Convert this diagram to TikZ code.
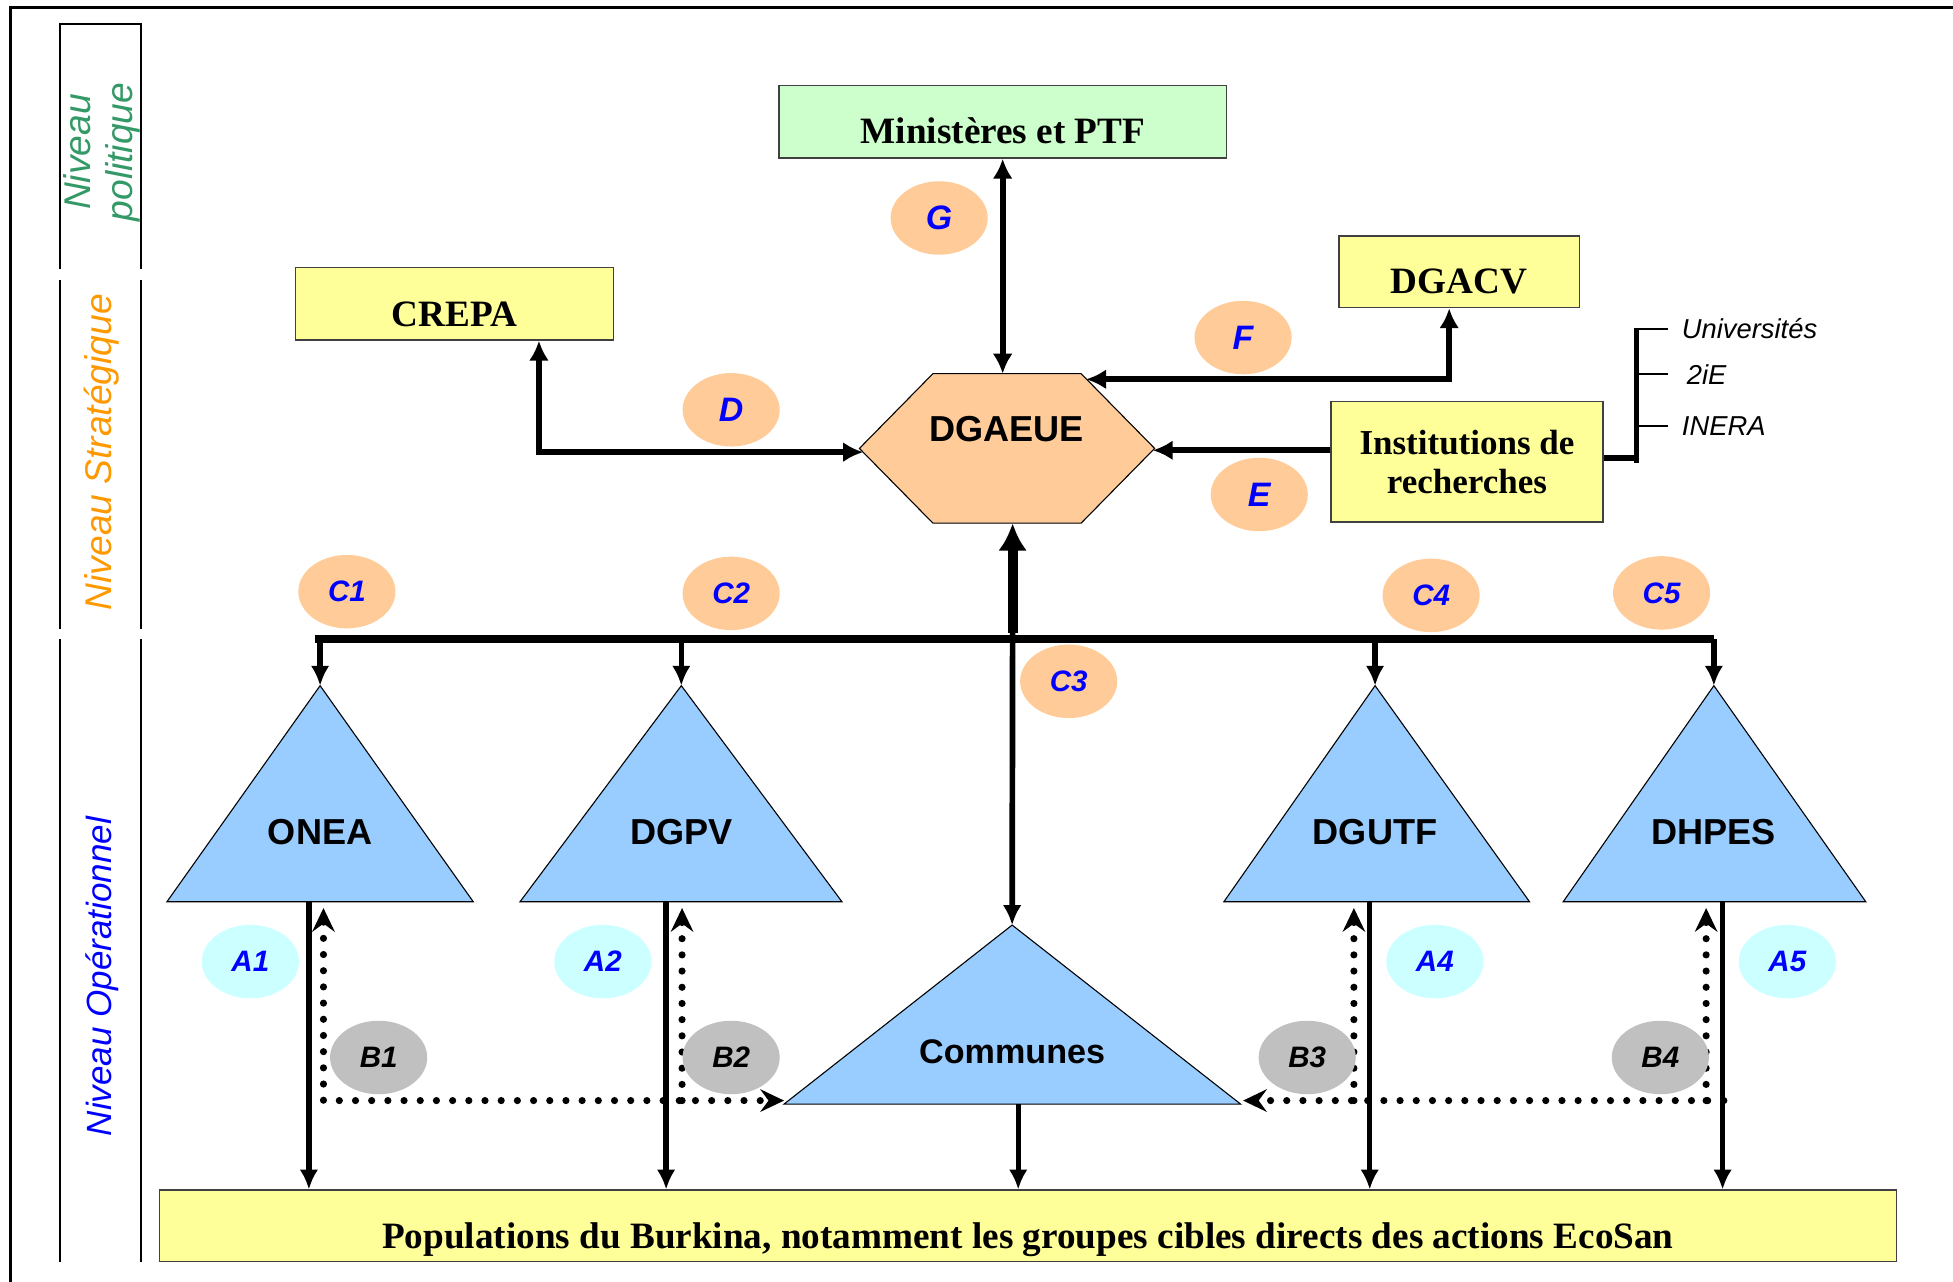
\documentclass[tikz,border=0pt]{standalone}
\usepackage{fontspec}
\setmainfont{Liberation Serif}
\setsansfont{Liberation Sans}
\usetikzlibrary{arrows.meta,shapes.geometric}

\definecolor{peach}{RGB}{255,204,153}
\definecolor{paleyellow}{RGB}{255,255,153}
\definecolor{palegreen}{RGB}{204,255,204}
\definecolor{skyblue}{RGB}{153,204,255}
\definecolor{palecyan}{RGB}{204,255,255}
\definecolor{midgrey}{RGB}{192,192,192}
\definecolor{levelgreen}{RGB}{51,153,102}
\definecolor{levelorange}{RGB}{255,153,0}

\begin{document}
\begin{tikzpicture}[x=0.02cm,y=-0.02cm,
  box/.style={draw=black!75,line width=0.6pt,inner sep=0pt,font=\bfseries\fontsize{17}{19}\selectfont},
  tri/.style={draw=black,line width=0.5pt,fill=skyblue},
  trilabel/.style={font=\sffamily\bfseries\fontsize{16.5}{18}\selectfont},
  tag/.style={ellipse,minimum width=1.56cm,minimum height=1.18cm,inner sep=0pt,text=blue,font=\sffamily\bfseries\itshape\fontsize{13.5}{15}\selectfont},
  bigtag/.style={tag,fill=peach,font=\sffamily\bfseries\itshape\fontsize{15.5}{17}\selectfont},
  level/.style={rotate=90,align=center,font=\sffamily\itshape\fontsize{17}{19}\selectfont},
  member/.style={anchor=west,inner xsep=0.22cm,inner ysep=0pt,font=\sffamily\itshape\fontsize{12.5}{14}\selectfont},
  link/.style={line width=2.7pt,-{Latex[length=0.32cm,width=0.32cm]}},
  twoway/.style={line width=2.7pt,{Latex[length=0.32cm,width=0.32cm]}-{Latex[length=0.32cm,width=0.32cm]}},
  drop/.style={line width=2.4pt,-{Latex[length=0.32cm,width=0.3cm]}},
  dotlink/.style={line width=0.115cm,line cap=round,dash pattern=on 0pt off 0.26cm,-{Stealth[length=0.38cm,width=0.36cm,inset=0.13cm]}}]
  \useasboundingbox (0,0) rectangle (1568,1029);

  %frame and level column
  \draw[line width=1.4pt] (1568,6) -- (8.8,6) -- (8.8,1029);
  \draw[line width=0.9pt] (48,216) -- (48,19) -- (113.2,19) -- (113.2,216);
  \draw[line width=0.9pt] (48,225) -- (48,505) (113.2,225) -- (113.2,505);
  \draw[line width=0.9pt] (48,513) -- (48,1013) (113.2,513) -- (113.2,1013);
  \node[level,text=levelgreen] (politique) at (82,122) {Niveau\\politique};
  \node[level,text=levelorange] (strategique) at (82,363) {Niveau Stratégique};
  \node[level,text=blue,font=\sffamily\itshape\fontsize{16}{18}\selectfont] (operationnel) at (82,784) {Niveau Opérationnel};

  %boxes
  \node[box,fill=palegreen,minimum width=7.19cm,minimum height=1.16cm,text height=0.684cm,text depth=0pt] (min) at (805.25,97.9) {Ministères et PTF};
  \node[box,fill=paleyellow,minimum width=5.11cm,minimum height=1.16cm,text height=0.732cm,text depth=0pt] (crepa) at (364.85,244) {CREPA};
  \node[box,fill=paleyellow,minimum width=3.86cm,minimum height=1.15cm,text height=0.71cm,text depth=0pt] (dgacv) at (1171.5,218.25) {DGACV};
  \node[box,fill=paleyellow,minimum width=4.37cm,minimum height=1.93cm,align=center,font=\bfseries\fontsize{16}{17.5}\selectfont] (inst) at (1177.8,370.85) {Institutions de\\recherches};
  \node[box,fill=paleyellow,minimum width=27.89cm,minimum height=1.15cm,text height=0.74cm,text depth=0pt] (pop) at (825.25,984.25) {Populations du Burkina, notamment les groupes cibles directs des actions EcoSan};

  %DGAEUE hexagon
  \filldraw[fill=peach,draw=black,line width=0.5pt] (690,360) -- (749,300) -- (868,300) -- (927,360) -- (868,420) -- (749,420) -- cycle;
  \node[trilabel] (dgaeue) at (808.2,344.3) {DGAEUE};
  \coordinate (hexTop) at (805,300);
  \coordinate (hexF) at (872,304.5);
  \coordinate (hexW) at (693,363);
  \coordinate (hexE) at (925.5,361.5);
  \coordinate (hexBot) at (813,420);

  %operational triangles
  \filldraw[tri] (257,550.5) coordinate (oneaTop) -- (380,724) -- (134,724) -- cycle;
  \filldraw[tri] (547,550.5) coordinate (dgpvTop) -- (676,724) -- (417.5,724) -- cycle;
  \filldraw[tri] (1104,550.5) coordinate (dgutfTop) -- (1228,724) -- (982.6,724) -- cycle;
  \filldraw[tri] (1376,550.5) coordinate (dhpesTop) -- (1498,724) -- (1255,724) -- cycle;
  \filldraw[tri] (812.6,742.7) coordinate (comTop) -- (996,886.4) coordinate (comR) -- (629.5,886.4) coordinate (comL) -- cycle;
  \node[trilabel] (onea) at (257,667.7) {ONEA};
  \node[trilabel] (dgpv) at (547,667.7) {DGPV};
  \node[trilabel] (dgutf) at (1104,667.7) {DGUTF};
  \node[trilabel] (dhpes) at (1376,667.7) {DHPES};
  \node[trilabel,font=\sffamily\bfseries\fontsize{15.6}{17}\selectfont] (communes) at (812.6,844.4) {Communes};

  %upper links
  \draw[twoway] (min.south -| hexTop) -- (hexTop);
  \coordinate (fBend) at (1163.5,304.5);
  \draw[twoway] (dgacv.south -| fBend) -- (fBend) -- (hexF);
  \coordinate (dBend) at (432.7,363);
  \draw[twoway] (crepa.south -| dBend) -- (dBend) -- (hexW);
  \draw[link] (inst.west |- hexE) -- (hexE);

  %research institutions
  \coordinate (bkMid) at (1314,367.5);
  \coordinate (bkTop) at (1314,263.5);
  \coordinate (bkBot) at (1314,372);
  \node[member] (univ) at (1339,264) {Universités};
  \node[member,inner xsep=0.3cm] (iie) at (1339,300.4) {2iE};
  \node[member] (inera) at (1339,342) {INERA};
  \draw[line width=2.7pt] (inst.east |- bkMid) -- (bkMid);
  \draw[line width=2.5pt] (bkTop) -- (bkBot);
  \foreach \m in {univ,iie,inera}
    \draw[line width=0.8pt] (bkTop |- \m.west) -- (\m.west);

  %coordination bus
  \coordinate (busL) at (253,513);
  \coordinate (busR) at (1376,513);
  \coordinate (hubUp) at (813,508);
  \draw[line width=3.4pt] (busL) -- (busR);
  \draw[line width=4.6pt,-{Latex[length=0.44cm,width=0.46cm]}] (hubUp) -- (hexBot);
  \draw[line width=2.6pt,-{Latex[length=0.32cm,width=0.3cm]}] (hubUp) -- (comTop);
  \foreach \t in {oneaTop,dgpvTop,dgutfTop,dhpesTop}
    \draw[drop] (\t |- busL) -- (\t);

  %actions towards populations
  \coordinate (oneaOut) at (248,724);
  \coordinate (dgpvOut) at (534.8,724);
  \coordinate (comOut) at (817.5,886.4);
  \coordinate (dgutfOut) at (1099.7,724);
  \coordinate (dhpesOut) at (1383,724);
  \foreach \o in {oneaOut,dgpvOut,comOut,dgutfOut,dhpesOut}
    \draw[drop] (\o) -- (\o |- pop.north);

  %dotted feedback from communes
  \coordinate (oneaIn) at (259.7,729);
  \coordinate (dgpvIn) at (547.6,729);
  \coordinate (dgutfIn) at (1087,729);
  \coordinate (dhpesIn) at (1369.8,729);
  \coordinate (dotL) at (629.5,883.6);
  \coordinate (dotR) at (998,883.6);
  \coordinate (dotEnd) at (1384,883.6);
  \draw[dotlink,{Stealth[length=0.38cm,width=0.36cm,inset=0.13cm]}-{Stealth[length=0.38cm,width=0.36cm,inset=0.13cm]}] (oneaIn) |- (dotL);
  \draw[dotlink] (dgpvIn |- dotL) -- (dgpvIn);
  \draw[dotlink] (dotEnd) -- (dotR);
  \draw[dotlink] (dgutfIn |- dotR) -- (dgutfIn);
  \draw[dotlink] (dhpesIn |- dotR) -- (dhpesIn);

  %flow tags
  \node[bigtag] (G) at (754,175) {G};
  \node[bigtag] (F) at (998,271) {F};
  \node[bigtag] (D) at (587,329) {D};
  \node[bigtag] (E) at (1011,397) {E};
  \node[tag,fill=peach] (C1) at (278.5,475) {C1};
  \node[tag,fill=peach] (C2) at (587,476.4) {C2};
  \node[tag,fill=peach] (C3) at (858,547) {C3};
  \node[tag,fill=peach] (C4) at (1149,478) {C4};
  \node[tag,fill=peach] (C5) at (1334,476) {C5};
  \node[tag,fill=palecyan] (A1) at (201,772) {A1};
  \node[tag,fill=palecyan] (A2) at (484,772) {A2};
  \node[tag,fill=palecyan] (A4) at (1152,772) {A4};
  \node[tag,fill=palecyan] (A5) at (1435,772) {A5};
  \node[tag,fill=midgrey,text=black] (B1) at (304,849) {B1};
  \node[tag,fill=midgrey,text=black] (B2) at (587,849) {B2};
  \node[tag,fill=midgrey,text=black] (B3) at (1049.5,849) {B3};
  \node[tag,fill=midgrey,text=black] (B4) at (1333,849) {B4};
\end{tikzpicture}
\end{document}
